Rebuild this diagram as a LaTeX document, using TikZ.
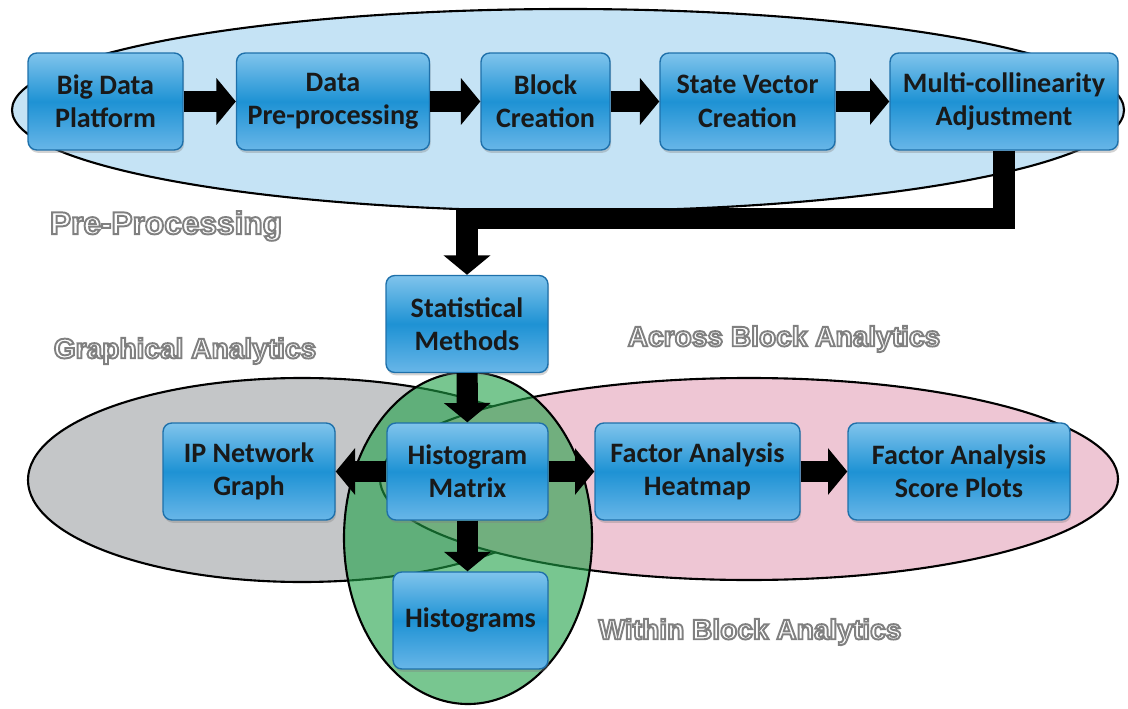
\documentclass[tikz,border=0pt]{standalone}
\usepackage{fontspec}
\setmainfont{Carlito}
\newfontfamily\tagfont{Liberation Sans}
\usetikzlibrary{arrows.meta}
\usetikzlibrary{shadows}
\definecolor{preblue}{RGB}{197,227,245}
\definecolor{graphgrey}{RGB}{196,198,200}
\definecolor{acrosspink}{RGB}{238,198,212}
\definecolor{withingreen}{RGB}{30,160,70}
\definecolor{boxtop}{RGB}{128,196,236}
\definecolor{boxmid}{RGB}{30,146,212}
\definecolor{boxbot}{RGB}{104,182,232}
\definecolor{boxline}{RGB}{30,112,170}
\tikzset{
	stepbox/.style={draw=boxline, line width=0.8pt, rounded corners=5pt, top color=boxtop, bottom color=boxbot, middle color=boxmid, minimum height=1.94cm, inner xsep=2pt, align=center, text=black!90, font=\fontsize{16}{19}\selectfont\bfseries, drop shadow={opacity=0.35, shadow xshift=0.6pt, shadow yshift=-1.6pt}},
	fat/.style={line width=12pt, -{Triangle[length=11pt, width=26pt]}},
	group/.style={draw=black, line width=1.2pt},
	tag/.style={text=white, font=\tagfont\fontsize{16}{18}\selectfont\bfseries}
}
\newcommand{\tagtext}[1]{\special{pdf:literal direct 0.5 G 1.1 w 2 Tr}#1\special{pdf:literal direct 0 Tr}}
\begin{document}
\begin{tikzpicture}[x=0.02cm, y=-0.02cm]
			\useasboundingbox (0,0) rectangle (1128,709);
			\draw [group, fill=preblue] (568,110) ellipse [x radius=556, y radius=101];
			\draw [group, fill=graphgrey] (302,480) ellipse [x radius=274, y radius=102];
			\draw [group, fill=acrosspink] (749,479) ellipse [x radius=369, y radius=101];
			\draw [group, fill=withingreen, fill opacity=0.6] (468,538) ellipse [x radius=124, y radius=166];
			\node [stepbox, minimum width=3.1cm] (bigdata) at (105.5,101.5) {Big Data\\Platform};
			\node [stepbox, minimum width=3.86cm] (prep) at (333,101.5) {Data\\Pre-processing};
			\node [stepbox, minimum width=2.58cm] (block) at (545.5,101.5) {Block\\Creation};
			\node [stepbox, minimum width=3.5cm] (state) at (747.5,101.5) {State Vector\\Creation};
			\node [stepbox, minimum width=4.56cm] (multi) at (1004,101.5) {Multi-collinearity\\Adjustment};
			\node [stepbox, minimum width=3.24cm] (stat) at (467,324) {Statistical\\Methods};
			\node [stepbox, minimum width=3.22cm] (hmatrix) at (467.5,471.5) {Histogram\\Matrix};
			\node [stepbox, minimum width=3.44cm] (ipnet) at (249,471.5) {IP Network\\Graph};
			\node [stepbox, minimum width=4.1cm] (heatmap) at (697.5,471.5) {Factor Analysis\\Heatmap};
			\node [stepbox, minimum width=4.44cm] (scores) at (959,471.5) {Factor Analysis\\Score Plots};
			\node [stepbox, minimum width=3.1cm] (hists) at (470.5,620.5) {Histograms};
			\draw [fat] (bigdata) -- (prep);
			\draw [fat] (prep) -- (block);
			\draw [fat] (block) -- (state);
			\draw [fat] (state) -- (multi);
			\draw [fat] (multi.south) -- ++(0,68) -| (stat.north);
			\draw [fat] (stat) -- (hmatrix);
			\draw [fat] (hmatrix) -- (ipnet);
			\draw [fat] (hmatrix) -- (heatmap);
			\draw [fat] (heatmap) -- (scores);
			\draw [fat] (hmatrix.south) -- (hmatrix.south |- hists.north);
			\node [tag, font=\tagfont\fontsize{18}{20}\selectfont\bfseries] (pretag) at (166,226) {\tagtext{Pre-Processing}};
			\node [tag] (graphtag) at (185,351) {\tagtext{Graphical Analytics}};
			\node [tag] (acrosstag) at (784,339) {\tagtext{Across Block Analytics}};
			\node [tag] (withintag) at (750,632) {\tagtext{Within Block Analytics}};
	\end{tikzpicture}
\end{document}
